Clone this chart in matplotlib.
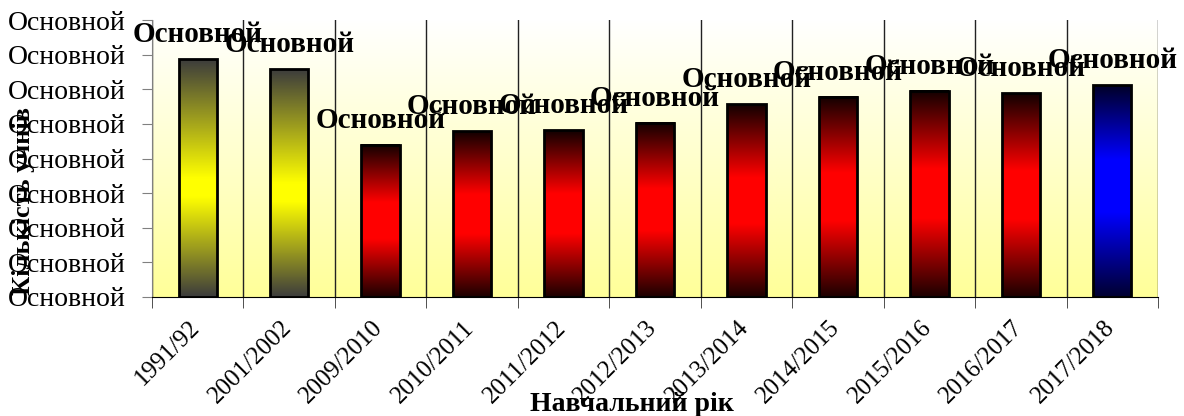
import matplotlib.pyplot as plt
import numpy as np
from matplotlib.colors import LinearSegmentedColormap
from matplotlib.transforms import ScaledTranslation

# дані
years = ["1991/92", "2001/2002", "2009/2010", "2010/2011", "2011/2012",
         "2012/2013", "2013/2014", "2014/2015", "2015/2016", "2016/2017",
         "2017/2018"]
students = [687, 658, 439, 479, 482, 503, 557, 578, 595, 589, 612]
bar_tones = ["yellow", "yellow", "red", "red", "red", "red", "red", "red",
             "red", "red", "blue"]
bar_labels = ["Основной"] * len(years)
y_ticks = [0, 100, 200, 300, 400, 500, 600, 700, 800]
y_tick_labels = ["Основной"] * len(y_ticks)

# градієнти стовпців: (позиція, колір) від низу до верху
tone_stops = {
    "yellow": [(0.0, "#3c3c3c"), (0.42, "#ffff00"), (0.5, "#ffff00"), (1.0, "#3c3c3c")],
    "red": [(0.0, "#1c0000"), (0.38, "#ff0000"), (0.62, "#ff0000"), (1.0, "#120000")],
    "blue": [(0.0, "#000030"), (0.4, "#0000ff"), (0.65, "#0000ff"), (1.0, "#000028")],
}

plt.rcParams["font.family"] = ["Liberation Serif", "DejaVu Serif"]

fig = plt.figure(figsize=(11.84, 4.16), dpi=100)
ax = fig.add_axes([152 / 1184, 1 - 297 / 416, 1006 / 1184, 277 / 416])

# фон області графіка: від білого зверху до світло-жовтого знизу
bg_cmap = LinearSegmentedColormap.from_list("bg", ["#ffffff", "#ffff99"])
bg = np.linspace(0, 1, 256).reshape(-1, 1)
ax.imshow(bg, cmap=bg_cmap, extent=(0, 1, 0, 1), transform=ax.transAxes,
          aspect="auto", origin="upper", zorder=0)

x = np.arange(len(years))
width = 0.42
grad = np.linspace(0, 1, 256).reshape(-1, 1)
for i, (val, tone) in enumerate(zip(students, bar_tones)):
    cmap = LinearSegmentedColormap.from_list(tone, tone_stops[tone])
    ax.imshow(grad, cmap=cmap, extent=(i - width / 2, i + width / 2, 0, val),
              aspect="auto", origin="lower", zorder=2)
ax.bar(x, students, width=width, fill=False, edgecolor="black",
       linewidth=2, zorder=3)

for i, val in enumerate(students):
    ax.annotate(bar_labels[i], (i, val), xytext=(0, 8), textcoords="offset points",
                ha="center", va="bottom", fontsize=21, fontweight="bold", zorder=4)

ax.set_xlim(-0.5, len(years) - 0.5)
ax.set_ylim(0, 800)

ax.set_xticks(x)
ax.set_xticklabels(years, rotation=45, ha="right", va="top",
                   rotation_mode="anchor", fontsize=18)
ax.set_xticks(np.arange(-0.5, len(years)), minor=True)
ax.tick_params(axis="x", which="major", length=0, pad=14)
ax.tick_params(axis="x", which="minor", length=8, color="#333333")
ax.grid(which="minor", axis="x", color="#222222", linewidth=1, zorder=1)
for lbl in ax.get_xticklabels():
    lbl.set_transform(lbl.get_transform() + ScaledTranslation(-9 / 100, 0, fig.dpi_scale_trans))

ax.set_yticks(y_ticks)
ax.set_yticklabels(y_tick_labels, fontsize=20)
ax.tick_params(axis="y", length=7, color="#808080", pad=12)

ax.spines["top"].set_visible(False)
ax.spines["right"].set_visible(False)
ax.spines["left"].set_color("#808080")
ax.spines["bottom"].set_color("black")
ax.set_axisbelow(True)

ax.set_ylabel("Кількість учнів", fontsize=19, fontweight="bold")
ax.yaxis.set_label_coords((35 - 152) / 1006, (297 - 201) / 277)
fig.text(632 / 1184, 1 - 411 / 416, "Навчальний рік", ha="center", va="baseline",
         fontsize=20, fontweight="bold")

fig.savefig("out.png", dpi=100)
